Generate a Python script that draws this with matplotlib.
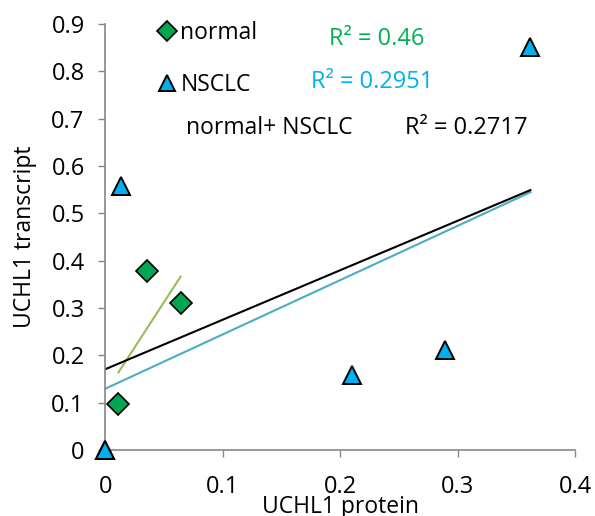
import numpy as np
import matplotlib.pyplot as plt
from matplotlib.lines import Line2D

plt.rcParams['font.family'] = ['Open Sans', 'DejaVu Sans']

# UCHL1 protein vs transcript
normal_x = [0.011, 0.035, 0.064]
normal_y = [0.097, 0.378, 0.311]
nsclc_x = [0.0, 0.0, 0.013, 0.21, 0.289, 0.362]
nsclc_y = [0.0, 0.0, 0.558, 0.159, 0.211, 0.852]

r2_normal = 'R² = 0.46'
r2_nsclc = 'R² = 0.2951'
r2_all = 'R² = 0.2717'

green = '#00B050'
blue = '#00B0F0'
axis_gray = '#868686'
fs = 16.5

fig = plt.figure(figsize=(5.95, 5.16), dpi=100)
ax = fig.add_axes([0.1773, 0.1279, 0.7891, 0.8256])


def trend(x, y, color):
    # linear least-squares trendline over the data's x range
    k, b = np.polyfit(x, y, 1)
    xs = np.array([min(x), max(x)])
    ax.plot(xs, k * xs + b, color=color, lw=1.5, zorder=2)


all_x = normal_x + nsclc_x
all_y = normal_y + nsclc_y
trend(normal_x, normal_y, '#9BBB59')
trend(nsclc_x, nsclc_y, '#4BACC6')
trend(all_x, all_y, 'black')

ax.plot(normal_x, normal_y, 'D', ms=11.5, mfc='#00A651', mec='black', mew=1.2,
        clip_on=False, zorder=3)
ax.plot(nsclc_x, nsclc_y, '^', ms=13, mfc=blue, mec='black', mew=1.4,
        clip_on=False, zorder=3)

ax.set_xlim(0, 0.4)
ax.set_ylim(0, 0.9)
ax.set_xticks([0, 0.1, 0.2, 0.3, 0.4])
ax.set_xticklabels(['0', '0.1', '0.2', '0.3', '0.4'])
ax.set_yticks(np.arange(0, 0.91, 0.1))
ax.set_yticklabels(['0'] + ['%.1f' % v for v in np.arange(0.1, 0.91, 0.1)])
ax.tick_params(labelsize=17, direction='out', length=5, width=1, color=axis_gray)
ax.tick_params(axis='x', pad=13)
ax.tick_params(axis='y', pad=10)
for s in ['top', 'right']:
    ax.spines[s].set_visible(False)
for s in ['left', 'bottom']:
    ax.spines[s].set_color(axis_gray)
    ax.spines[s].set_linewidth(1.2)

ax.set_xlabel('UCHL1 protein', fontsize=fs)
ax.xaxis.set_label_coords(0.5, -0.105)
ax.set_ylabel('UCHL1 transcript', fontsize=fs, va='center')
ax.yaxis.set_label_coords(-0.171, 0.5)

handles = [
    Line2D([], [], ls='none', marker='D', ms=10.5, mfc='#00A651', mec='black', mew=1.2),
    Line2D([], [], ls='none', marker='^', ms=11.5, mfc=blue, mec='black', mew=1.4),
]
ax.legend(handles, ['normal', 'NSCLC'], loc='upper left', bbox_to_anchor=(0.0765, 1.044),
          frameon=False, fontsize=fs, handlelength=0.8, handletextpad=0.2,
          labelspacing=1.2, borderpad=0.2)

fig.text(186 / 595, 1 - 128 / 516, 'normal+ NSCLC', fontsize=fs, va='center')
fig.text(329 / 595, 1 - 39 / 516, r2_normal, fontsize=17, color=green, va='center')
fig.text(311 / 595, 1 - 82 / 516, r2_nsclc, fontsize=17, color=blue, va='center')
fig.text(405 / 595, 1 - 128 / 516, r2_all, fontsize=17, color='black', va='center')

fig.savefig('out.png', dpi=100)
